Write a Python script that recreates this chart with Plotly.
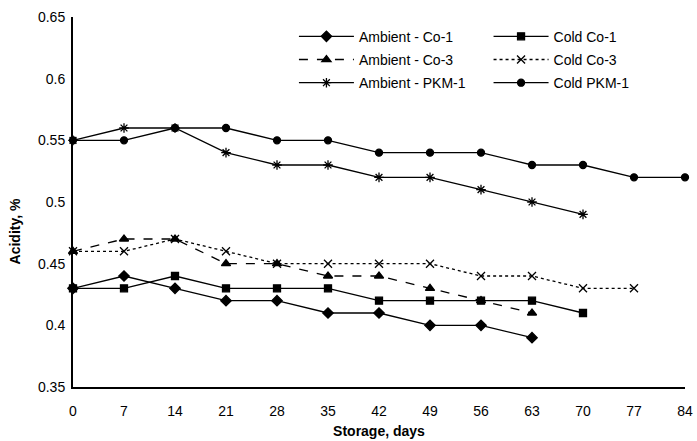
import plotly.graph_objects as go

days = [0, 7, 14, 21, 28, 35, 42, 49, 56, 63, 70, 77, 84]

ambient_co1 = [0.43, 0.44, 0.43, 0.42, 0.42, 0.41, 0.41, 0.40, 0.40, 0.39]
cold_co1 = [0.43, 0.43, 0.44, 0.43, 0.43, 0.43, 0.42, 0.42, 0.42, 0.42, 0.41]
ambient_co3 = [0.46, 0.47, 0.47, 0.45, 0.45, 0.44, 0.44, 0.43, 0.42, 0.41]
cold_co3 = [0.46, 0.46, 0.47, 0.46, 0.45, 0.45, 0.45, 0.45, 0.44, 0.44, 0.43, 0.43]
ambient_pkm1 = [0.55, 0.56, 0.56, 0.54, 0.53, 0.53, 0.52, 0.52, 0.51, 0.50, 0.49]
cold_pkm1 = [0.55, 0.55, 0.56, 0.56, 0.55, 0.55, 0.54, 0.54, 0.54, 0.53, 0.53, 0.52, 0.52]

y_ticks = [0.35, 0.4, 0.45, 0.5, 0.55, 0.6, 0.65]
y_labels = ["0.35", "0.4", "0.45", "0.5", "0.55", "0.6", "0.65"]

# (name, values, symbol, dash, size, legend column)
series = [
    ("Ambient - Co-1", ambient_co1, "diamond", "solid", 8, "legend"),
    ("Cold Co-1", cold_co1, "square", "solid", 7, "legend2"),
    ("Ambient - Co-3", ambient_co3, "triangle-up", "dash", 8, "legend"),
    ("Cold Co-3", cold_co3, "x-thin-open", "dot", 8, "legend2"),
    ("Ambient - PKM-1", ambient_pkm1, "asterisk-open", "solid", 8, "legend"),
    ("Cold PKM-1", cold_pkm1, "circle", "solid", 7, "legend2"),
]

fig = go.Figure()
for i, (name, vals, sym, dash, size, leg) in enumerate(series):
    fig.add_trace(go.Scatter(
        x=days[:len(vals)], y=vals, name=name, mode="lines+markers",
        line=dict(color="black", width=1.3, dash=dash),
        marker=dict(symbol=sym, size=size, color="black",
                    line=dict(color="black", width=1.3)),
        cliponaxis=False, legend=leg, legendgroup=f"g{i}",
    ))

leg_common = dict(orientation="v", yanchor="top", xanchor="left",
                  itemwidth=55, font=dict(size=14), bgcolor="rgba(0,0,0,0)",
                  tracegroupgap=2, traceorder="grouped")

fig.update_layout(
    width=697, height=441,
    margin=dict(l=73, r=12, t=17, b=54, autoexpand=False),
    paper_bgcolor="white", plot_bgcolor="white",
    font=dict(family="Liberation Sans, Arial, sans-serif", size=14, color="black"),
    legend=dict(x=0.361, y=0.99, **leg_common),
    legend2=dict(x=0.679, y=0.99, **leg_common),
    xaxis=dict(range=[0, 84], tickvals=days, ticks="", showgrid=False,
               zeroline=False, showline=True, linecolor="black", linewidth=2,
               automargin=False, ticklabelstandoff=10,
               title=dict(text="<b>Storage, days</b>", font=dict(size=14), standoff=8)),
    yaxis=dict(range=[0.35, 0.65], tickvals=y_ticks, ticktext=y_labels, ticks="",
               showgrid=False, zeroline=False, showline=True, linecolor="black",
               linewidth=2, automargin=False, ticklabelstandoff=3),
    annotations=[dict(text="<b>Acidity, %</b>", textangle=-90, showarrow=False,
                      xref="paper", yref="paper", x=-0.095, y=0.42,
                      xanchor="center", yanchor="middle", font=dict(size=14))],
)

fig.write_html("out.html", post_script="document.body.style.margin='0px';",
               config={"displayModeBar": False})
